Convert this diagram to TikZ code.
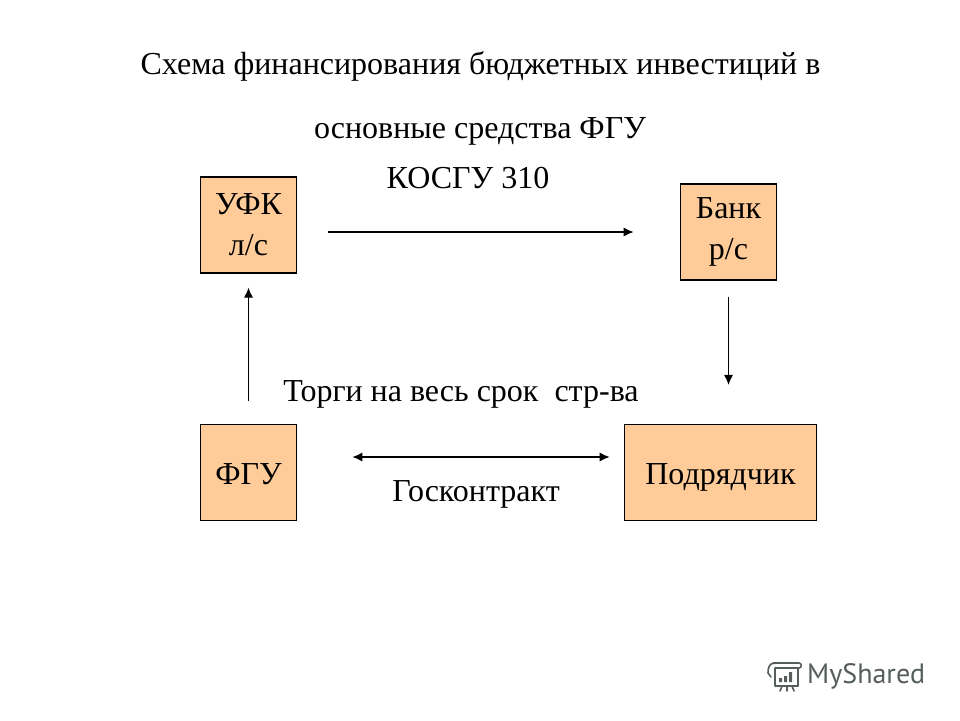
\documentclass[tikz,border=0pt]{standalone}
\usepackage{fontspec}
\setmainfont{Liberation Serif}
\newfontfamily\logofont{PT Sans}
\usetikzlibrary{arrows.meta,calc}
\definecolor{boxfill}{HTML}{FFCC99}
\definecolor{logogrey}{HTML}{565E5C}
\tikzset{
  x=1pt,y=-1pt,
  box/.style={draw=black,line width=1.2pt,fill=boxfill,inner sep=0pt,align=center,font=\fontsize{32}{41}\selectfont},
  single/.style={text height=30pt,text depth=7pt},
  label/.style={inner sep=0pt,anchor=base,font=\fontsize{32}{38}\selectfont},
  conn/.style={line width=1.1pt,-{Latex[length=10pt,width=9pt]}},
  both/.style={line width=1.1pt,{Latex[length=10pt,width=9pt]}-{Latex[length=10pt,width=9pt]}},
  logo/.style={draw=logogrey,line width=1.6pt,line cap=round,line join=round}
}
\begin{document}
\begin{tikzpicture}
\useasboundingbox (0,0) rectangle (960,720);
\fill[white] (0,0) rectangle (960,720);
\node[label] (t1) at (480.5,74) {Схема финансирования бюджетных инвестиций в};
\node[label] (t2) at (480,138) {основные средства ФГУ};
\node[label] (t3) at (468,188) {КОСГУ 310};
\node[label] (t4) at (461,401) {Торги на весь срок\ \ стр-ва};
\node[label] (t5) at (476,501) {Госконтракт};
\node[box,minimum width=96.5pt,minimum height=96pt] (ufk) at (248.5,225) {УФК\\л/с};
\node[box,minimum width=96.5pt,minimum height=96pt] (bank) at (728.5,232) {Банк\\р/с};
\node[box,single,minimum width=96.5pt,minimum height=96pt] (fgu) at (248.5,472.5) {ФГУ};
\node[box,single,minimum width=192.5pt,minimum height=96pt] (podr) at (720.5,472.5) {Подрядчик};
\draw[conn,shorten <=31pt,shorten >=46pt] (ufk.east |- bank.west) -- (bank.west);
\draw[conn,shorten <=16pt,shorten >=39pt] (bank.south) -- (bank.south |- podr.north);
\draw[conn,shorten <=23pt,shorten >=14pt] (fgu.north) -- (ufk.south);
\draw[both,shorten <=55pt,shorten >=14pt] ($(fgu.east)+(0,-15.5)$) -- ($(podr.west)+(0,-15.5)$);
% watermark
\draw[logo] (773,663) -- (799,663) (775,663) .. controls (769,663) and (768,668) .. (768,673) -- (771,677)
  (799,663) .. controls (802,663) and (802,668) .. (799,668) -- (775,668) -- (775,686) -- (798,686) -- (798,668)
  (782,686) -- (780,691) (787,686) -- (787,691) (792,686) -- (794,691);
\fill[logogrey] (779,678) rectangle (782,682) (784,676) rectangle (787,682) (789,672) rectangle (792,682);
\node[inner sep=0pt,anchor=base west,text=logogrey,font=\logofont\fontsize{28}{34}\selectfont] (brand) at (807,683) {MyShared};
\end{tikzpicture}
\end{document}
